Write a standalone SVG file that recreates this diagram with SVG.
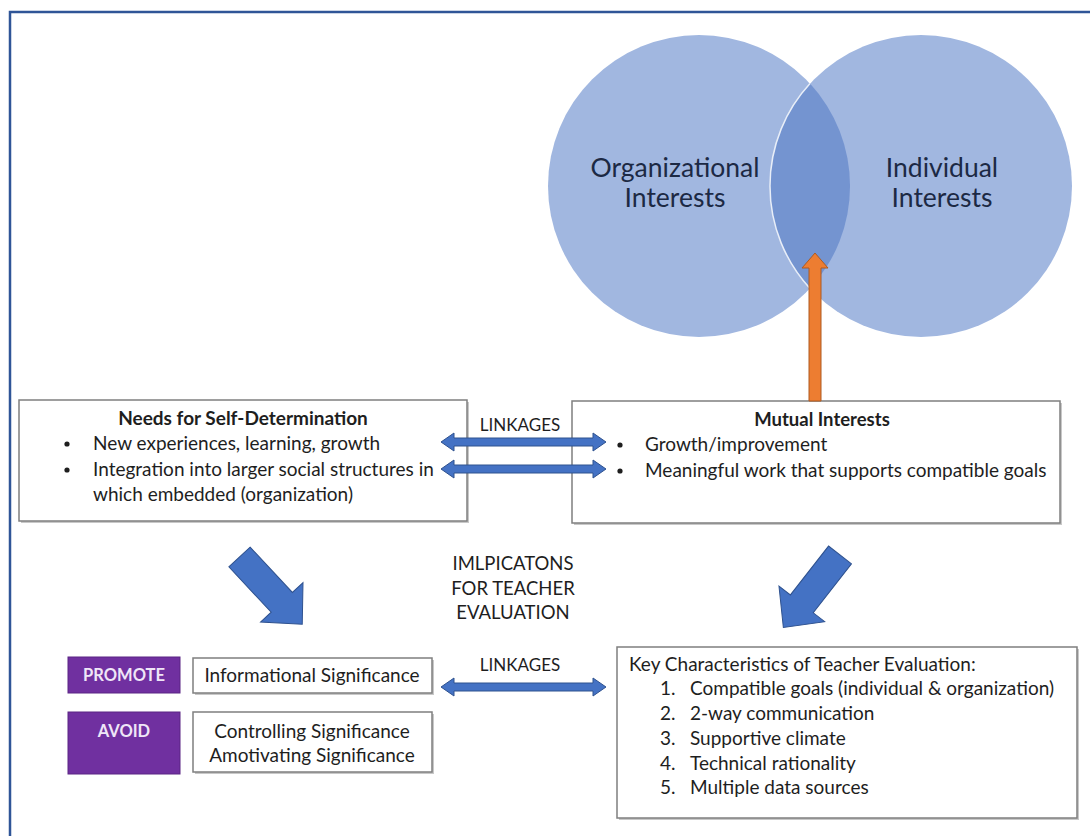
<svg xmlns="http://www.w3.org/2000/svg" width="1090" height="836" viewBox="0 0 1090 836">
<style>
  text { font-family: Lato, "Liberation Sans", Arial, sans-serif; fill: #1e1e1e; }
  .body { font-size: 19px; }
  .title { font-size: 19px; font-weight: bold; }
  .cap { font-size: 17px; }
  .cap2 { font-size: 18.5px; }
  .venn { font-size: 26.5px; fill: #1c2944; }
  .box { fill: #ffffff; stroke: #7f7f7f; stroke-width: 1.5; }
  .shadow { fill: #c8c8c8; }
  .tag { fill: #7030a0; stroke: #5b2484; stroke-width: 1; }
  .tagtext { font-size: 16.5px; fill: #efe6f7; font-weight: bold; }
  .blue { fill: #4472c4; stroke: #2f528f; stroke-width: 1; }
  .orange { fill: #ed7d31; stroke: #ae5a21; stroke-width: 1; }
  .circle { fill: #a1b7e0; }
  .lens { fill: #7494d0; }
  .lensedge { fill: none; stroke: #e8eef8; stroke-width: 1.5; }
</style>
<defs>
  <path id="blockArrow" d="M0,-14.5 L62,-14.5 L62,-29 L92,0 L62,29 L62,14.5 L0,14.5 Z"/>
</defs>
<rect width="1090" height="836" fill="#ffffff"/>
<path d="M10,836 L10,12 L1090,12" fill="none" stroke="#2f5597" stroke-width="2.5"/>

<g id="venn">
  <circle class="circle" cx="699" cy="186" r="151"/>
  <circle class="circle" cx="921" cy="186" r="151"/>
  <path class="lens" d="M810,83.6 A151,151 0 0,1 810,288.4 A151,151 0 0,1 810,83.6 Z"/>
  <path class="lensedge" d="M810,288.4 A151,151 0 0,1 810,83.6"/>
  <text class="venn" x="675" y="177" text-anchor="middle">Organizational</text>
  <text class="venn" x="675" y="207" text-anchor="middle">Interests</text>
  <text class="venn" x="942" y="177" text-anchor="middle">Individual</text>
  <text class="venn" x="942" y="207" text-anchor="middle">Interests</text>
</g>

<g id="needs">
  <rect class="shadow" x="21" y="402" width="448" height="121"/>
  <rect class="box" x="19" y="400" width="448" height="121"/>
  <text class="title" x="243" y="425" text-anchor="middle">Needs for Self-Determination</text>
  <circle cx="67" cy="444" r="2.6" fill="#1e1e1e"/>
  <text class="body" x="93" y="450">New experiences, learning, growth</text>
  <circle cx="67" cy="470" r="2.6" fill="#1e1e1e"/>
  <text class="body" x="93" y="476">Integration into larger social structures in</text>
  <text class="body" x="93" y="501">which embedded (organization)</text>
</g>

<g id="mutual">
  <rect class="shadow" x="574" y="403" width="488" height="122"/>
  <rect class="box" x="572" y="401" width="488" height="122"/>
  <text class="title" x="822" y="426" text-anchor="middle" style="font-size:18.5px">Mutual Interests</text>
  <circle cx="620" cy="445" r="2.6" fill="#1e1e1e"/>
  <text class="body" x="645" y="451">Growth/improvement</text>
  <circle cx="620" cy="471" r="2.6" fill="#1e1e1e"/>
  <text class="body" x="645" y="477">Meaningful work that supports compatible goals</text>
</g>

<g id="implications">
  <text class="cap2" x="513" y="570" text-anchor="middle">IMLPICATONS</text>
  <text class="cap2" x="513" y="595" text-anchor="middle">FOR TEACHER</text>
  <text class="cap2" x="513" y="619" text-anchor="middle">EVALUATION</text>
</g>

<g id="promote">
  <rect class="tag" x="68" y="657" width="112" height="36"/>
  <text class="tagtext" x="124" y="681" text-anchor="middle">PROMOTE</text>
</g>

<g id="avoid">
  <rect class="tag" x="68" y="712" width="112" height="62"/>
  <text class="tagtext" x="124" y="737" text-anchor="middle">AVOID</text>
</g>

<g id="informational">
  <rect class="shadow" x="195" y="660" width="239" height="35"/>
  <rect class="box" x="193" y="658" width="239" height="35"/>
  <text class="body" x="312" y="682" text-anchor="middle">Informational Significance</text>
</g>

<g id="controlling">
  <rect class="shadow" x="195" y="714" width="239" height="60"/>
  <rect class="box" x="193" y="712" width="239" height="60"/>
  <text class="body" x="312" y="738" text-anchor="middle">Controlling Significance</text>
  <text class="body" x="312" y="762" text-anchor="middle">Amotivating Significance</text>
</g>

<g id="key">
  <rect class="shadow" x="619" y="649" width="460" height="171"/>
  <rect class="box" x="617" y="647" width="460" height="171"/>
  <text class="body" x="629" y="671">Key Characteristics of Teacher Evaluation:</text>
  <text class="body" x="660" y="695">1.</text>
  <text class="body" x="690" y="695">Compatible goals (individual &amp; organization)</text>
  <text class="body" x="660" y="720">2.</text>
  <text class="body" x="690" y="720">2-way communication</text>
  <text class="body" x="660" y="745">3.</text>
  <text class="body" x="690" y="745">Supportive climate</text>
  <text class="body" x="660" y="770">4.</text>
  <text class="body" x="690" y="770">Technical rationality</text>
  <text class="body" x="660" y="794">5.</text>
  <text class="body" x="690" y="794">Multiple data sources</text>
</g>

<g id="connectors">
  <path class="orange" d="M809,401 L809,268 L802,268 L815,253 L828,268 L821,268 L821,401 Z"/>
  <path class="blue" d="M441,442 L454,433 L454,438 L593,438 L593,433 L606,442 L593,451 L593,446 L454,446 L454,451 Z"/>
  <path class="blue" d="M441,469 L454,460 L454,465 L593,465 L593,460 L606,469 L593,478 L593,473 L454,473 L454,478 Z"/>
  <path class="blue" d="M441,687 L454,678 L454,683 L593,683 L593,678 L606,687 L593,696 L593,691 L454,691 L454,696 Z"/>
  <use href="#blockArrow" class="blue" transform="translate(239.5,557) rotate(47)"/>
  <use href="#blockArrow" class="blue" transform="translate(840,555) rotate(128)"/>
  <text class="cap" x="520" y="431" text-anchor="middle">LINKAGES</text>
  <text class="cap" x="520" y="671" text-anchor="middle">LINKAGES</text>
</g>
</svg>
